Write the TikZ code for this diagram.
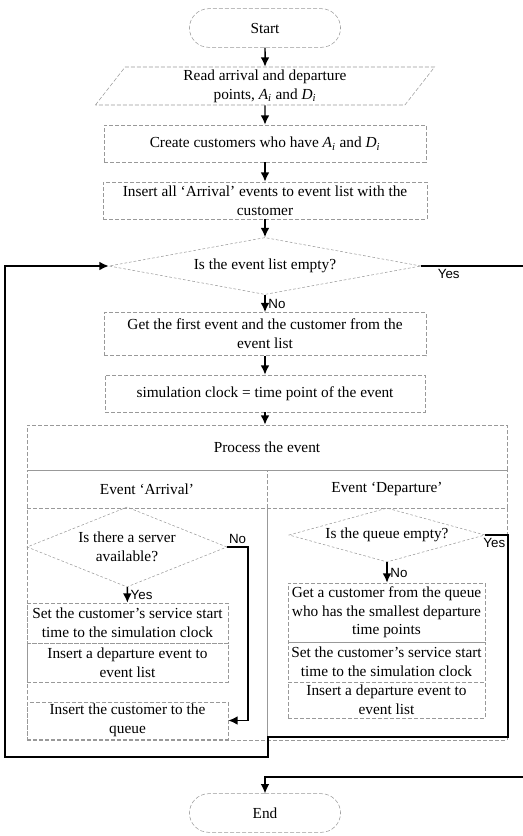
\documentclass[tikz,border=0pt]{standalone}
\usepackage{fontspec}
\setmainfont{Liberation Serif}
\setsansfont{Liberation Sans}
\usetikzlibrary{shapes.geometric,shapes.misc,arrows.meta}

\tikzset{
	every node/.style={font=\fontsize{11.5}{14}\selectfont},
	box/.style={rectangle, draw=black!40, dash pattern=on 3pt off 1.5pt, line width=0.4pt, inner sep=1pt, align=center},
	term/.style={rounded rectangle, draw=black!40, dash pattern=on 3pt off 1.5pt, line width=0.4pt, minimum width=120pt, minimum height=29pt},
	io/.style={trapezium, trapezium left angle=62, trapezium right angle=118, trapezium stretches=true, draw=black!40, dash pattern=on 3pt off 1.5pt, line width=0.4pt, align=center, minimum width=255pt, minimum height=28.5pt, inner sep=0pt},
	decide/.style={diamond, aspect=5, inner sep=0pt, draw=black!40, dash pattern=on 2pt off 1.5pt, line width=0.4pt, align=center},
	flow/.style={line width=1.1pt, -{Latex[length=7pt,width=6.5pt]}},
	link/.style={line width=1.1pt},
	tag/.style={font=\fontsize{10}{12}\selectfont\sffamily, inner sep=2pt}
}

\begin{document}
\begin{tikzpicture}[x=0.75pt, y=-0.75pt]
	\useasboundingbox (0,0) rectangle (523,836);
	
	% main column
	\node[term] (start) at (265,28) {Start};
	\node[io] (read) at (265,86) {Read arrival and departure\\points, \textit{A}\textsubscript{\textit{i}} and \textit{D}\textsubscript{\textit{i}}};
	\node[box, minimum width=241.5pt, minimum height=27.75pt] (create) at (265,143.5) {Create customers who have \textit{A}\textsubscript{\textit{i}} and \textit{D}\textsubscript{\textit{i}}};
	\node[box, minimum width=243pt, minimum height=27.75pt] (insall) at (265,200.5) {Insert all `Arrival' events to event list with the\\customer};
	\node[decide, aspect=5.5, minimum width=234pt, minimum height=42.75pt] (empty) at (265,266) {Is the event list empty?};
	\node[box, minimum width=241.5pt, minimum height=32.25pt] (first) at (265,334) {Get the first event and the customer from the\\event list};
	\node[box, minimum width=240pt, minimum height=27.75pt] (clock) at (265,393.5) {simulation clock = time point of the event};
	
	% process the event
	\node[box, minimum width=360pt, minimum height=33.75pt] (proc) at (267,447.5) {Process the event};
	\node[box, minimum width=180pt, minimum height=28.5pt] (arrhead) at (147,489) {Event `Arrival'};
	\node[box, minimum width=180pt, minimum height=28.5pt] (dephead) at (387,489) {Event `Departure'};
	\node[box, minimum width=180pt, minimum height=174pt] (arrcol) at (147,624) {};
	\node[box, minimum width=180pt, minimum height=174pt] (depcol) at (387,624) {};
	
	% arrival side
	\node[decide, aspect=2.5, minimum width=150pt, minimum height=60pt] (server) at (127,547) {Is there a server\\available?};
	\node[box, minimum width=150.75pt, minimum height=30pt] (setA) at (127.5,623) {Set the customer's service start\\time to the simulation clock};
	\node[box, minimum width=150.75pt, minimum height=29.25pt] (insdepA) at (127.5,662.5) {Insert a departure event to\\event list};
	\node[box, minimum width=150.75pt, minimum height=27.75pt] (queueins) at (127.5,720.5) {Insert the customer to the\\queue};
	
	% departure side
	\node[decide, aspect=3.6, minimum width=147pt, minimum height=40.5pt] (qempty) at (387,535) {Is the queue empty?};
	\node[box, minimum width=147.75pt, minimum height=44.25pt] (getcust) at (386.5,612.5) {Get a customer from the queue\\who has the smallest departure\\time points};
	\node[box, minimum width=147.75pt, minimum height=30pt] (setD) at (386.5,662) {Set the customer's service start\\time to the simulation clock};
	\node[box, minimum width=147.75pt, minimum height=27pt] (insdepD) at (386.5,700) {Insert a departure event to\\event list};
	
	\node[term] (end) at (265,813) {End};
	
	\coordinate (exitR) at (523,266);
	\coordinate (backR) at (523,777);
	\coordinate (noA) at (248,547);
	\coordinate (loopR) at (508,737);
	\coordinate (loopL) at (268,757);
	\coordinate (loopX) at (5,757);
	
	\draw[flow] (start) -- (read);
	\draw[flow] (read) -- (create);
	\draw[flow] (create) -- (insall);
	\draw[flow] (insall) -- (empty);
	\draw[flow] (empty) -- node[tag, right]{No} (first);
	\draw[flow] (first) -- (clock);
	\draw[flow] (clock.south) -- (clock.south |- proc.north);
	\draw[link] (empty.east) -- node[tag, below, pos=0.27]{Yes} (exitR);
	\draw[flow] (backR) -| (end.north);
	
	\draw[flow] (server) -- node[tag, right]{Yes} (setA);
	\draw[flow] (server.east) -- node[tag, above]{No} (noA) |- (queueins.east);
	\draw[flow] (qempty.south) -- node[tag, right]{No} (qempty.south |- getcust.north);
	\draw[flow] (qempty.east) -| node[tag, below, pos=0.2]{Yes} (loopR) -| (loopL) -- (loopX) |- (empty.west);
\end{tikzpicture}
\end{document}
